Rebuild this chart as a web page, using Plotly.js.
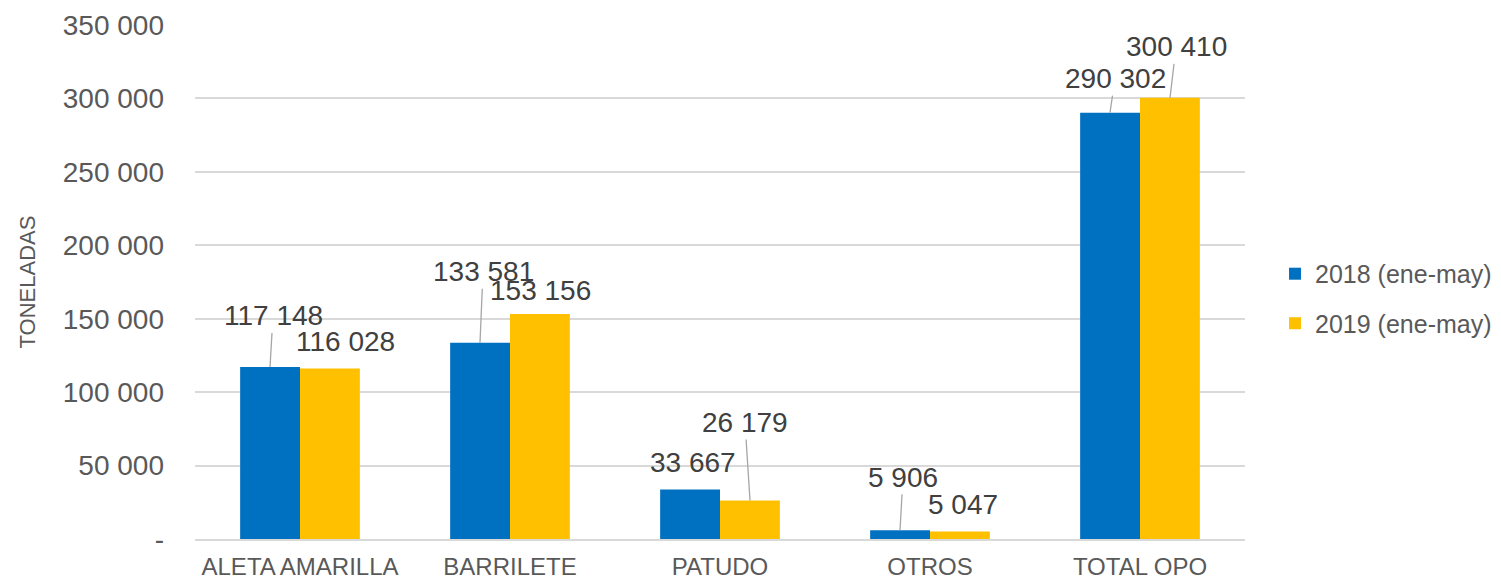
<!DOCTYPE html>
<html>
<head>
<meta charset="utf-8">
<script src="https://cdn.plot.ly/plotly-3.0.1.min.js"></script>
<style>html,body{margin:0;padding:0;background:#fff;}#chart{width:1501px;height:584px;}</style>
</head>
<body>
<div id="chart"></div>
<script>
// ---- data ----
const categories = ["ALETA AMARILLA", "BARRILETE", "PATUDO", "OTROS", "TOTAL OPO"];
const series2018 = [117148, 133581, 33667, 5906, 290302];
const series2019 = [116028, 153156, 26179, 5047, 300410];
const seriesNames = ["2018 (ene-may)", "2019 (ene-may)"];
const labels2018 = ["117 148", "133 581", "33 667", "5 906", "290 302"];
const labels2019 = ["116 028", "153 156", "26 179", "5 047", "300 410"];
const yTickVals = [0, 50000, 100000, 150000, 200000, 250000, 300000, 350000];
const yTickText = ["-", "50 000", "100 000", "150 000", "200 000", "250 000", "300 000", "350 000"];

// ---- label placement (pixel offsets from bar top, and whether a leader line shows) ----
const off2018 = [[3, -51, true], [3, -71, true], [3, -27, false], [3, -53, true], [5, -34, true]];
const off2019 = [[15, -27, false], [0, -24, false], [-5, -78, true], [3, -27, false], [6, -51, true]];

const FONT = "Liberation Sans, Arial, sans-serif";
const BLUE = "#0070C0", GOLD = "#FFC000";

const traces = [
  {type: "bar", name: seriesNames[0], x: categories, y: series2018,
   marker: {color: BLUE}, legendgroup: "a", hoverinfo: "none"},
  {type: "bar", name: seriesNames[1], x: categories, y: series2019,
   marker: {color: GOLD}, legendgroup: "b", hoverinfo: "none"}
];

const annotations = [];
function addLabels(vals, texts, offs, shift) {
  vals.forEach((v, i) => {
    annotations.push({
      x: categories[i], y: v, xref: "x", yref: "y", xshift: shift,
      text: texts[i], showarrow: true, arrowhead: 0, arrowwidth: 1.3,
      arrowcolor: offs[i][2] ? "#A6A6A6" : "rgba(0,0,0,0)",
      ax: offs[i][0], ay: offs[i][1],
      font: {family: FONT, size: 28, color: "#404040"}
    });
  });
}
addLabels(series2018, labels2018, off2018, -30);
addLabels(series2019, labels2019, off2019, 30);

const layout = {
  width: 1501, height: 584,
  margin: {l: 195, r: 256, t: 25, b: 45, autoexpand: false},
  paper_bgcolor: "#fff", plot_bgcolor: "#fff",
  barmode: "group", bargap: 0.43, bargroupgap: 0,
  font: {family: FONT, color: "#595959"},
  xaxis: {
    type: "category", showgrid: false, showline: true, linecolor: "#D9D9D9", linewidth: 2,
    ticks: "", tickfont: {size: 24, color: "#595959"}, ticklabelstandoff: 5, fixedrange: true
  },
  yaxis: {
    range: [0, 350000], tickvals: yTickVals, ticktext: yTickText,
    showgrid: true, gridcolor: "#D9D9D9", gridwidth: 2, zeroline: false, showline: false,
    ticks: "", tickfont: {size: 28, color: "#595959"}, ticklabelstandoff: 30,
    title: {text: "TONELADAS", font: {size: 22, color: "#595959"}, standoff: 21},
    fixedrange: true
  },
  legend: {
    x: 1.0286, xanchor: "left", y: 0.468, yanchor: "middle",
    font: {size: 25, color: "#595959"}, traceorder: "grouped", tracegroupgap: 14,
    bgcolor: "rgba(0,0,0,0)", itemwidth: 30
  },
  annotations: annotations,
  showlegend: true
};

Plotly.newPlot("chart", traces, layout, {displayModeBar: false, staticPlot: true});
</script>
</body>
</html>
